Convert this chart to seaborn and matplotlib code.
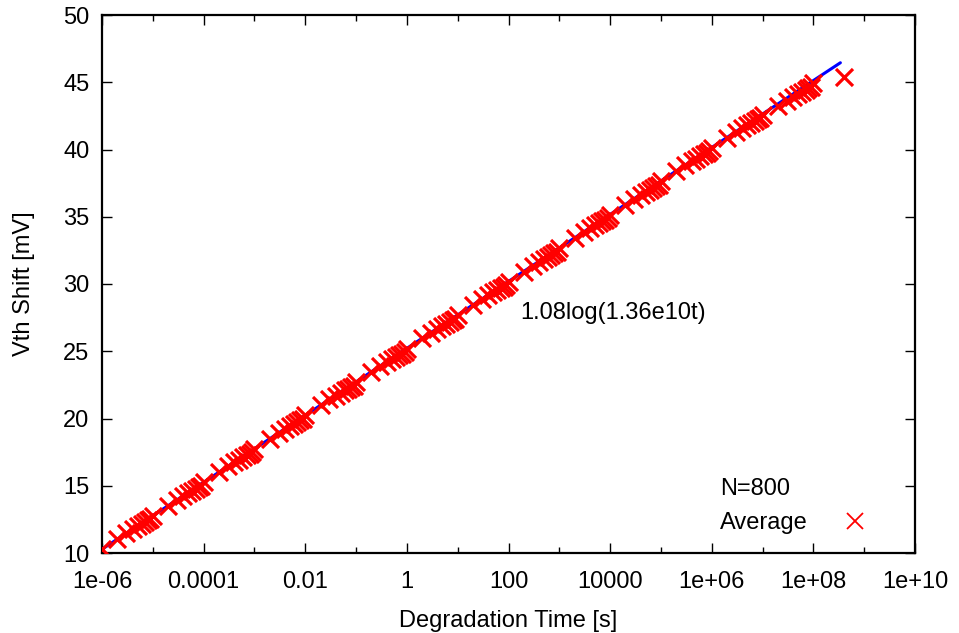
import matplotlib
matplotlib.use("Agg")
import matplotlib.pyplot as plt
from matplotlib.lines import Line2D
from matplotlib.ticker import FixedLocator, FixedFormatter, NullFormatter
import numpy as np
import pandas as pd
import seaborn as sns

# ---- data ----
decade_exponents = [-6, -5, -4, -3, -2, -1, 0, 1, 2, 3, 4, 5, 6, 7]
multipliers = [1, 2, 3, 4, 5, 6, 7, 8, 9]
shift_by_decade = [
    [10.30, 11.03, 11.47, 11.78, 12.00, 12.17, 12.30, 12.43, 12.52],
    [12.77, 13.52, 13.96, 14.25, 14.46, 14.63, 14.78, 14.90, 15.00],
    [15.25, 16.00, 16.44, 16.73, 16.95, 17.12, 17.26, 17.38, 17.48],
    [17.74, 18.49, 18.93, 19.22, 19.44, 19.60, 19.74, 19.86, 19.96],
    [20.23, 20.98, 21.42, 21.71, 21.92, 22.09, 22.23, 22.35, 22.45],
    [22.71, 23.46, 23.90, 24.19, 24.40, 24.57, 24.71, 24.83, 24.93],
    [25.20, 25.95, 26.39, 26.68, 26.89, 27.06, 27.20, 27.32, 27.42],
    [27.69, 28.44, 28.88, 29.17, 29.38, 29.55, 29.69, 29.81, 29.91],
    [30.17, 30.92, 31.36, 31.65, 31.86, 32.03, 32.17, 32.29, 32.39],
    [32.66, 33.41, 33.85, 34.14, 34.35, 34.52, 34.66, 34.78, 34.88],
    [35.15, 35.90, 36.34, 36.63, 36.84, 37.01, 37.15, 37.27, 37.37],
    [37.64, 38.39, 38.83, 39.12, 39.33, 39.50, 39.64, 39.76, 39.86],
    [40.12, 40.87, 41.31, 41.60, 41.81, 41.98, 42.12, 42.24, 42.34],
    [42.55, 43.20, 43.60, 43.90, 44.10, 44.28, 44.42, 44.55, 44.65],
]
extra_times = [1e8, 4e8]
extra_shift = [44.95, 45.40]

fit_times = [1e-6, 3.4e8]
fit_shift = [10.28, 46.45]

x_tick_values = [1e-6, 1e-4, 1e-2, 1e0, 1e2, 1e4, 1e6, 1e8, 1e10]
x_tick_labels = ["1e-06", "0.0001", "0.01", "1", "100", "10000", "1e+06", "1e+08", "1e+10"]
x_minor_values = [1e-5, 1e-3, 1e-1, 1e1, 1e3, 1e5, 1e7, 1e9]
y_tick_values = [10, 15, 20, 25, 30, 35, 40, 45, 50]

# ---- build table ----
times = []
shifts = []
for n, row in zip(decade_exponents, shift_by_decade):
    for k, v in zip(multipliers, row):
        times.append(k * 10.0 ** n)
        shifts.append(v)
times += extra_times
shifts += extra_shift
df = pd.DataFrame({"t": times, "v": shifts})
fit_df = pd.DataFrame({"t": fit_times, "v": fit_shift})

# ---- style ----
sns.set_style("ticks")
plt.rcParams["font.family"] = ["Liberation Sans", "DejaVu Sans"]
plt.rcParams["text.color"] = "black"
plt.rcParams["axes.labelcolor"] = "black"
plt.rcParams["xtick.color"] = "black"
plt.rcParams["ytick.color"] = "black"
FS = 17

fig = plt.figure(figsize=(9.59, 6.33), dpi=100)
ax = fig.add_axes([102 / 959, (633 - 553) / 633, 813 / 959, 538 / 633])
ax.set_xscale("log")

sns.lineplot(data=fit_df, x="t", y="v", color="blue", linewidth=2.2, ax=ax, zorder=2)
sns.scatterplot(data=df, x="t", y="v", marker="x", s=150, color="red",
                linewidth=2.3, ax=ax, zorder=3, legend=False)

ax.set_xlim(1e-6, 1e10)
ax.set_ylim(10, 50)
ax.xaxis.set_major_locator(FixedLocator(x_tick_values))
ax.xaxis.set_major_formatter(FixedFormatter(x_tick_labels))
ax.xaxis.set_minor_locator(FixedLocator(x_minor_values))
ax.xaxis.set_minor_formatter(NullFormatter())
ax.yaxis.set_major_locator(FixedLocator(y_tick_values))

ax.tick_params(which="both", direction="in", top=True, right=True,
               colors="black", width=1, labelsize=FS)
ax.tick_params(which="major", length=7)
ax.tick_params(which="minor", length=4)
ax.tick_params(axis="x", pad=13)
ax.tick_params(axis="y", pad=9)
for s in ax.spines.values():
    s.set_linewidth(1.6)
    s.set_color("black")

ax.set_xlabel("Degradation Time [s]", fontsize=FS, labelpad=12, color="black")
ax.set_ylabel("Vth Shift [mV]", fontsize=FS, labelpad=20, color="black")

ax.text(170, 27.84, "1.08log(1.36e10t)", fontsize=FS, ha="left", va="center",
        color="black")

handle = Line2D([], [], marker="x", color="red", linestyle="none",
                markersize=12, markeredgewidth=1.3)
leg = ax.legend([handle], ["Average"], title="N=800", title_fontsize=FS, fontsize=FS,
                loc="upper left", bbox_to_anchor=(0.760, 0.139), markerfirst=False,
                frameon=False, borderpad=0, borderaxespad=0, handletextpad=1.0,
                labelspacing=0.5, alignment="left")
leg.get_title().set_color("black")
for t in leg.get_texts():
    t.set_color("black")

fig.savefig("out.png", dpi=100)
